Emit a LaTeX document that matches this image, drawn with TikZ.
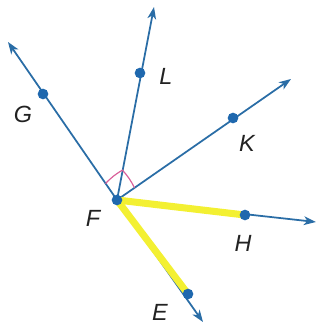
\documentclass[tikz,border=0pt]{standalone}
\usepackage{fontspec}
\setmainfont{Liberation Sans}
\usepackage{tikz}
\usetikzlibrary{arrows.meta,calc}
\definecolor{ray}{HTML}{2A6DA6}
\definecolor{dotc}{HTML}{1F68AE}
\definecolor{hi}{HTML}{F3F032}
\definecolor{mark}{HTML}{D9609A}
\definecolor{ink}{HTML}{222222}
\tikzset{>=Latex,
  line/.style={draw=ray,line width=1.5pt,-{Stealth[length=3.6mm,width=2.6mm,inset=1mm]}},
  glow/.style={draw=hi,line width=6pt},
  pt/.style={circle,fill=dotc,inner sep=0pt,minimum size=3.2mm},
  lab/.style={text=ink,font=\fontsize{20}{20}\selectfont\itshape,inner sep=0pt},
  angmark/.style={draw=mark,line width=1pt}}

\begin{document}
\begin{tikzpicture}[x=0.03cm,y=-0.03cm]
  \useasboundingbox (0,0) rectangle (321,324);
  % vertex and points on the rays
  \coordinate (F) at (117,200);
  \coordinate (G) at (43,94);
  \coordinate (L) at (140,73);
  \coordinate (K) at (233,118);
  \coordinate (H) at (245,215);
  \coordinate (E) at (188,294);
  % free ends of the rays
  \coordinate (tG) at (8,42);
  \coordinate (tL) at (154,7);
  \coordinate (tK) at (291,79);
  \coordinate (tH) at (316,222);
  \coordinate (tE) at (203,322);
  % rays
  \draw[line] (F) -- (tG);
  \draw[line] (F) -- (tL);
  \draw[line] (F) -- (tK);
  \draw[line] (F) -- (tH);
  \draw[line] (F) -- (tE);
  % highlighted segments
  \draw[glow] (F) -- (H);
  \draw[glow] (F) -- (E);
  % angle marks
  \draw[angmark] ($(F)!0.155!(G)$) to[bend left=8] ($(F)!0.235!(L)$)
    to[bend left=8] ($(F)!0.15!(K)$);
  % points
  \node[pt] (nF) at (F) {};
  \node[pt] (nG) at (G) {};
  \node[pt] (nL) at (L) {};
  \node[pt] (nK) at (K) {};
  \node[pt] (nH) at (H) {};
  \node[pt] (nE) at (E) {};
  % labels
  \node[lab] (lF) at (93,218) {F};
  \node[lab] (lG) at (23,114) {G};
  \node[lab] (lL) at (166,76) {L};
  \node[lab] (lK) at (247,143) {K};
  \node[lab] (lH) at (243,243) {H};
  \node[lab] (lE) at (160,312) {E};
\end{tikzpicture}
\end{document}
